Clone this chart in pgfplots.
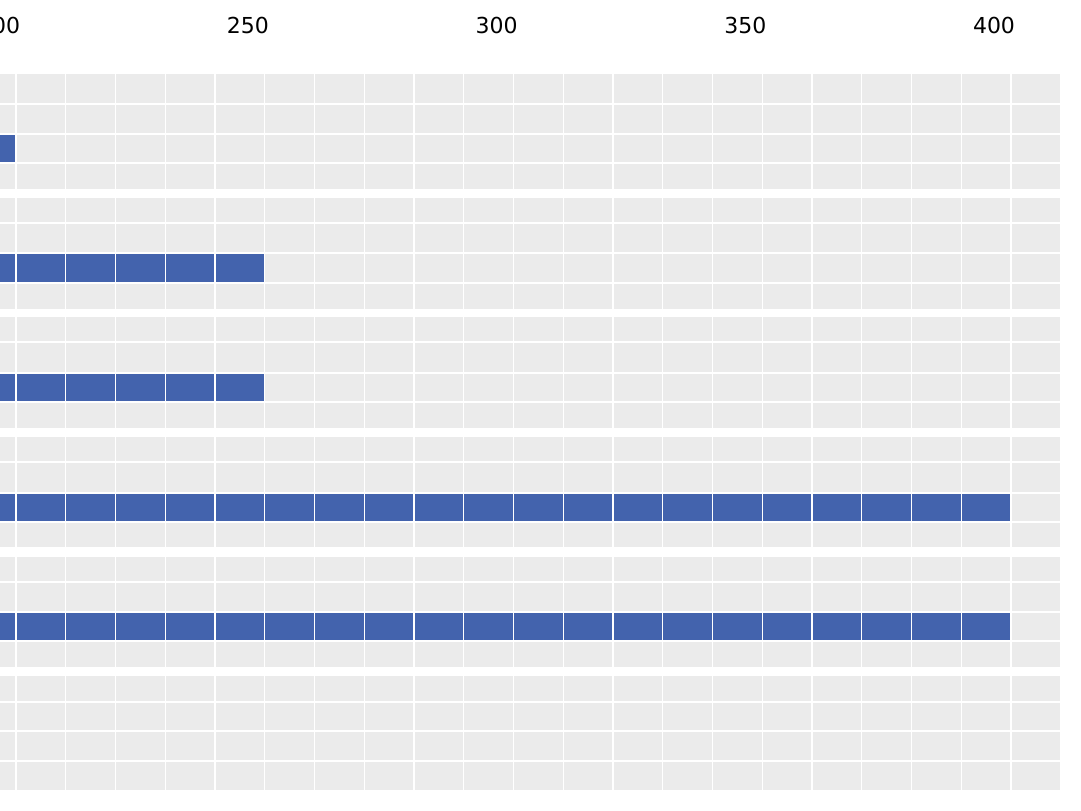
\documentclass[border=0pt]{standalone}
\usepackage{pgfplots}
\pgfplotsset{compat=1.18}
\usepackage{fontspec}
\setmainfont{DejaVu Sans}
\definecolor{panelgray}{HTML}{EBEBEB}
\definecolor{barblue}{HTML}{4363AD}
\pgfplotsset{panel/.style={
  scale only axis, width=530pt,
  xmin=196.78, xmax=409.85,
  axis background/.style={fill=panelgray},
  axis line style={draw=none},
  axis on top,
  xtick={190,200,...,410},
  grid=major,
  major grid style={white, line width=0.55pt},
  tick style={draw=none},
  xticklabels={}, yticklabels={},
  xbar, anchor=south west, clip=true,
}}
\begin{document}
\begin{tikzpicture}
\useasboundingbox (0,0) rectangle (540.5pt,405pt);
% panel 1
\begin{axis}[panel, at={(0pt,310.5pt)}, height=57.5pt,
  ymin=-189, ymax=-74, ytick={-104,-134,-163}, bar width=29,
  xticklabel pos=upper,
  xticklabels={,200,,,,,250,,,,,300,,,,,350,,,,,400,},
  xticklabel style={anchor=base, yshift=20pt, xshift=-8.5pt, font=\fontsize{11}{13}\selectfont, text=black}]
\addplot[fill=barblue, draw=none] coordinates {(200,-148.5)};
\end{axis}
% panel 2
\begin{axis}[panel, at={(0pt,250.5pt)}, height=55.5pt,
  ymin=-309, ymax=-198, ytick={-223,-253,-283}, bar width=30]
\addplot[fill=barblue, draw=none] coordinates {(250,-268)};
\end{axis}
% panel 3
\begin{axis}[panel, at={(0pt,191pt)}, height=55.5pt,
  ymin=-428, ymax=-317, ytick={-342,-373,-402}, bar width=29]
\addplot[fill=barblue, draw=none] coordinates {(250,-387.5)};
\end{axis}
% panel 4
\begin{axis}[panel, at={(0pt,131.5pt)}, height=55pt,
  ymin=-547, ymax=-437, ytick={-462,-493,-522}, bar width=29]
\addplot[fill=barblue, draw=none] coordinates {(400,-507.5)};
\end{axis}
% panel 5
\begin{axis}[panel, at={(0pt,71.5pt)}, height=55pt,
  ymin=-667, ymax=-557, ytick={-582,-612,-641}, bar width=29]
\addplot[fill=barblue, draw=none] coordinates {(400,-626.5)};
\end{axis}
% panel 6
\begin{axis}[panel, at={(0pt,10pt)}, height=57pt,
  ymin=-790, ymax=-676, ytick={-702,-731,-761}]
\end{axis}
\end{tikzpicture}
\end{document}
